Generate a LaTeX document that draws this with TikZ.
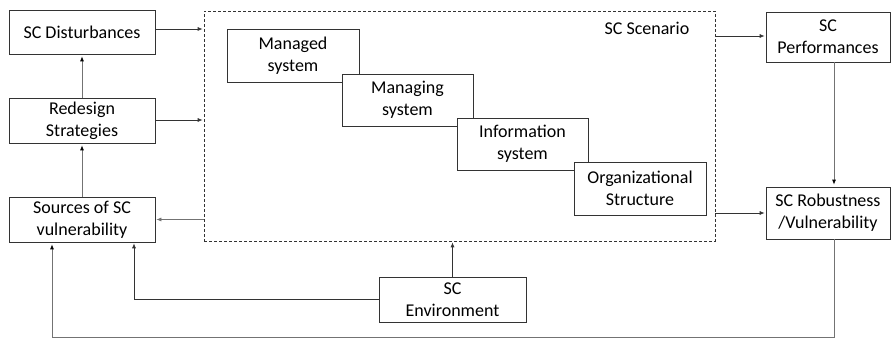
\documentclass[tikz,border=0pt]{standalone}
\usepackage{fontspec}
\setmainfont{Carlito}
\usetikzlibrary{arrows.meta,calc}
\begin{document}
\begin{tikzpicture}[x=1pt,y=1pt,
  box/.style={draw=black!80,line width=0.7pt,fill=white,align=center,inner sep=0pt,
    font=\fontsize{18}{22}\selectfont},
  conn/.style={draw=black!80,line width=0.7pt,-{Latex[length=5pt,width=4pt]},shorten >=1pt},
  gconn/.style={draw=black!55,line width=0.8pt,-{Latex[length=5pt,width=4pt,color=black]},shorten >=2pt},
  gline/.style={draw=black!55,line width=0.8pt}]
\useasboundingbox (0,0) rectangle (892,339);
% outer dashed scenario
\node[draw=black!80,dash pattern=on 3pt off 2pt,line width=0.7pt,minimum width=511pt,minimum height=230pt,inner sep=0pt] (scen) at (459.5,213) {};
\node[font=\fontsize{18}{22}\selectfont,anchor=center] (sclab) at (647,311) {SC Scenario};
% inner staircase
\node[box,minimum width=132pt,minimum height=53pt] (managed) at (293,283.5) {Managed\\system};
\node[box,minimum width=131pt,minimum height=52pt] (managing) at (407.5,239) {Managing\\system};
\node[box,minimum width=131pt,minimum height=52pt] (info) at (522.5,195) {Information\\system};
\node[box,minimum width=132pt,minimum height=53pt] (org) at (640,150.5) {Organizational\\Structure};
% left column
\node[box,minimum width=146pt,minimum height=44pt] (dist) at (82,307) {SC Disturbances};
\node[box,minimum width=146pt,minimum height=45pt] (redes) at (82,218.5) {Redesign\\Strategies};
\node[box,minimum width=146pt,minimum height=45pt] (sources) at (82,119.5) {Sources of SC\\vulnerability};
% right column
\node[box,minimum width=124pt,minimum height=50pt] (perf) at (828,302) {SC\\Performances};
\node[box,minimum width=124pt,minimum height=52pt] (robust) at (828,126) {SC Robustness\\/Vulnerability};
% bottom
\node[box,minimum width=147pt,minimum height=45pt] (env) at (452.5,39.5) {SC\\Environment};
% connectors
\coordinate (dE) at ($(dist.east)+(0,3)$);
\draw[conn] (dE) -- (dE -| scen.west);
\coordinate (rE) at ($(redes.east)+(0,0.5)$);
\draw[conn] (rE) -- (rE -| scen.west);
\coordinate (sE) at (scen.west |- sources.east);
\draw[conn,draw=black!55] (sE) -- (sources.east);
\draw[gconn] (sources.north) -- (redes.south);
\draw[gconn] (redes.north) -- (dist.south);
\coordinate (pW) at (perf.west |- 0,303);
\draw[conn] (scen.east |- pW) -- (pW);
\coordinate (roW) at (robust.west |- 0,126);
\draw[conn] (scen.east |- roW) -- (roW);
\coordinate (pS) at ($(perf.south)+(6,0)$);
\draw[gconn] (pS) -- (pS |- robust.north);
\draw[conn] (env.north) -- (env.north |- scen.south);
\coordinate (sB1) at ($(sources.south)+(52,0)$);
\draw[conn] (env.west) -| (sB1);
\coordinate (rS) at ($(robust.south)+(6,0)$);
\coordinate (bot) at (0,2);
\coordinate (sB2) at ($(sources.south)+(-30,0)$);
\draw[gconn] (rS) -- (rS |- bot) -- (sB2 |- bot) -- (sB2);
\end{tikzpicture}
\end{document}
